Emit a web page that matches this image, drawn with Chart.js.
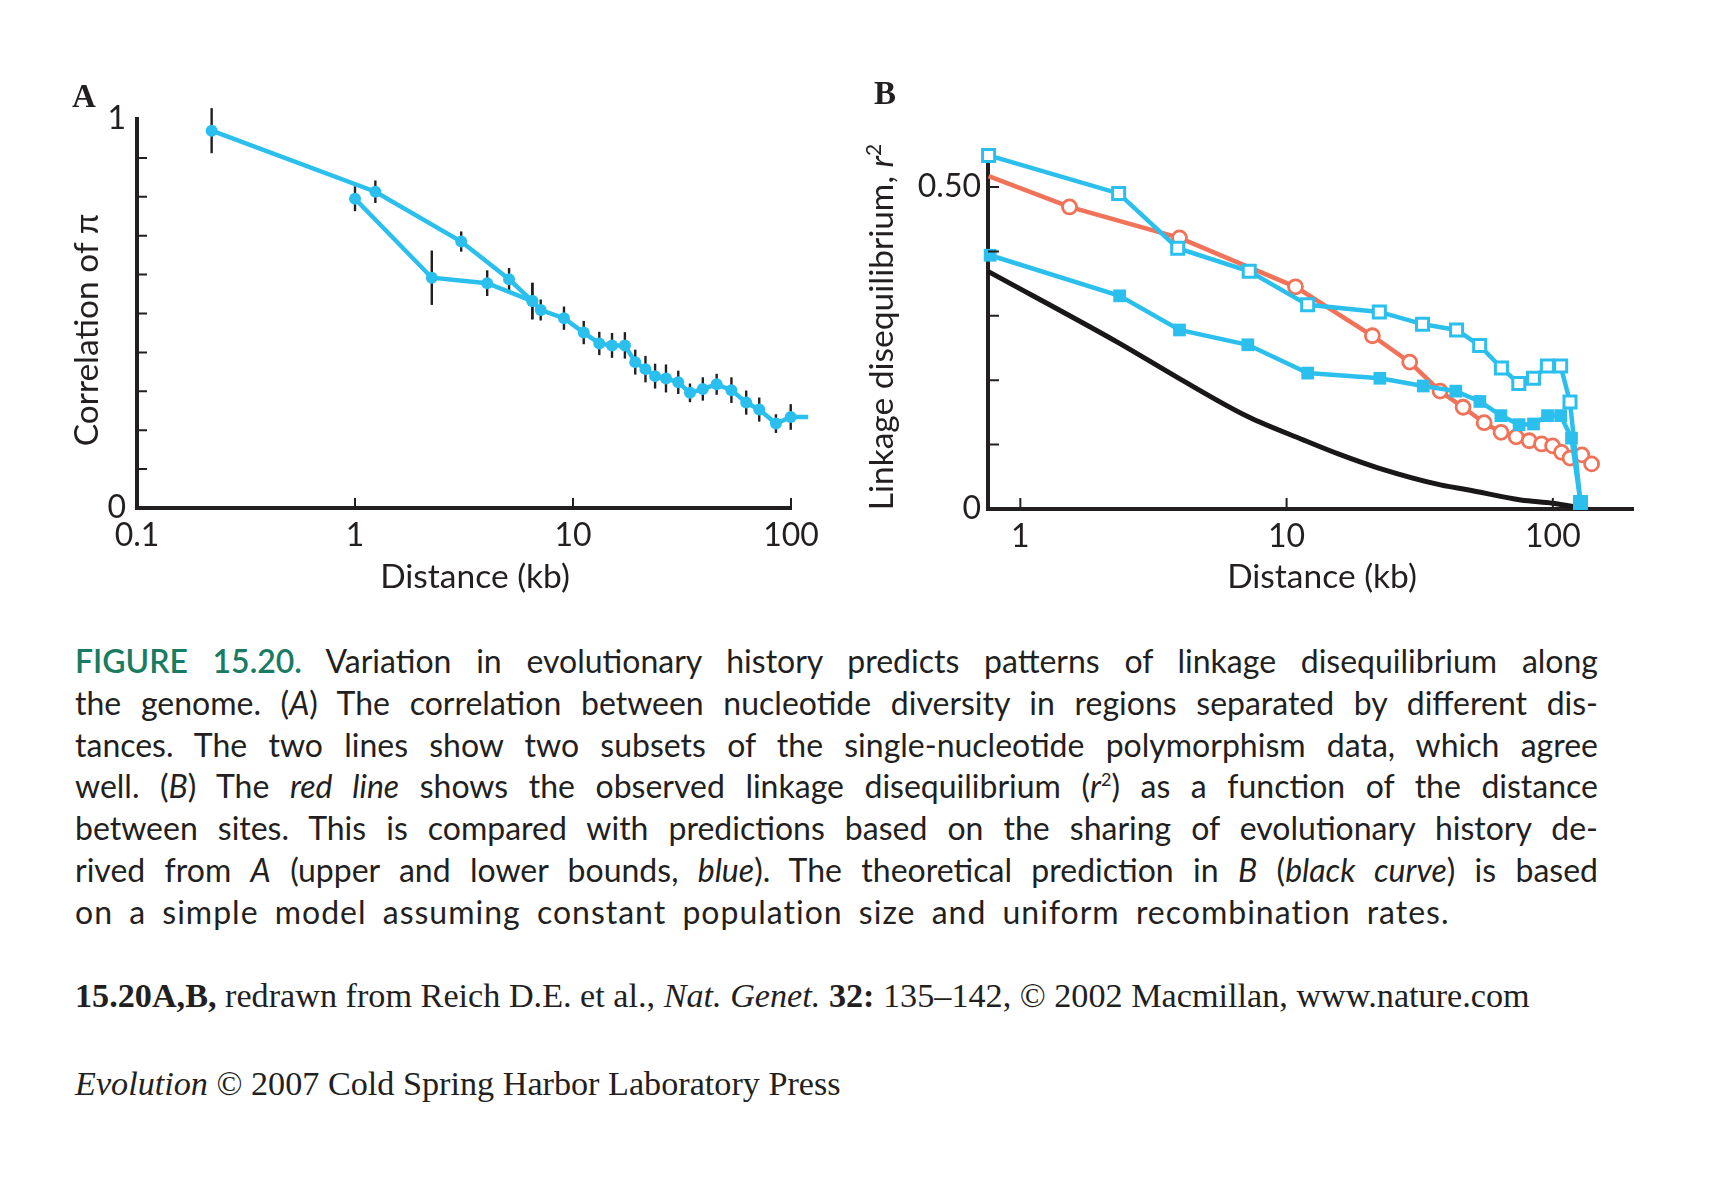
<!DOCTYPE html>
<html>
<head>
<meta charset="utf-8">
<script src="https://cdn.jsdelivr.net/npm/chart.js@4.4.0/dist/chart.umd.min.js"></script>
<style>
  body { margin: 0; background: #fff; width: 1710px; height: 1179px; position: relative; overflow: hidden; color: #231f20; font-family: Lato, "Open Sans", sans-serif; }
  .abs { position: absolute; }
  #boxA { left: 0; top: 0; width: 860px; height: 620px; }
  #boxB { left: 860px; top: 0; width: 850px; height: 620px; }
  .panel { font-family: "Liberation Serif", serif; font-weight: bold; font-size: 33px; line-height: 1; }
  .axt { font-size: 33.5px; line-height: 1; white-space: nowrap; }
  .rot { transform: translate(-50%, -50%) rotate(-90deg); }
  .ctr { transform: translate(-50%, -50%); }
  #caption { left: 75px; top: 640px; width: 1523px; font-size: 32px; line-height: 41.8px; }
  #caption div { text-align: justify; text-align-last: justify; }
  #caption div.last { text-align-last: left; letter-spacing: 1px; word-spacing: 7px; }
  .fig { color: #197b62; font-weight: 600; }
  .serif { font-family: "Liberation Serif", serif; font-size: 34.2px; line-height: 1; white-space: nowrap; }
</style>
</head>
<body>
<div id="boxA" class="abs"><canvas id="chartA"></canvas></div>
<div id="boxB" class="abs"><canvas id="chartB"></canvas></div>

<div class="abs panel ctr" style="left:84px; top:96px;">A</div>
<div class="abs panel ctr" style="left:885px; top:93px;">B</div>

<div class="abs axt rot" style="left:86px; top:330px;">Correlation of &pi;</div>
<div class="abs axt ctr" style="left:475px; top:576px;">Distance (kb)</div>
<div class="abs axt rot" style="left:880px; top:327px;">Linkage disequilibrium, <i>r</i><sup style="font-size:21px">2</sup></div>
<div class="abs axt ctr" style="left:1322px; top:576px;">Distance (kb)</div>

<div id="caption" class="abs">
  <div><span class="fig">FIGURE 15.20.</span> Variation in evolutionary history predicts patterns of linkage disequilibrium along</div>
  <div>the genome. (<i>A</i>) The correlation between nucleotide diversity in regions separated by different dis-</div>
  <div>tances. The two lines show two subsets of the single-nucleotide polymorphism data, which agree</div>
  <div>well. (<i>B</i>) The <i>red line</i> shows the observed linkage disequilibrium (<i>r</i><sup style="font-size:18px;line-height:0">2</sup>) as a function of the distance</div>
  <div>between sites. This is compared with predictions based on the sharing of evolutionary history de-</div>
  <div>rived from <i>A</i> (upper and lower bounds, <i>blue</i>). The theoretical prediction in <i>B</i> (<i>black curve</i>) is based</div>
  <div class="last">on a simple model assuming constant population size and uniform recombination rates.</div>
</div>

<div class="abs serif" style="left:75px; top:979px;"><b>15.20A,B,</b> redrawn from Reich D.E. et al., <i>Nat. Genet.</i> <b>32:</b> 135&ndash;142, &copy; 2002 Macmillan, www.nature.com</div>
<div class="abs serif" style="left:75px; top:1067px;"><i>Evolution</i> &copy; 2007 Cold Spring Harbor Laboratory Press</div>

<script>
// ---- Panel A: correlation of pi vs distance (kb) ----
const upperDistA = [0.22, 1.24, 3.07, 5.09, 6.51];
const upperCorrA = [0.970, 0.813, 0.685, 0.588, 0.532];
const upperErrA  = [0.058, 0.029, 0.026, 0.029, 0.047];

const lowerDistA = [1.0, 2.25, 4.04, 6.51, 7.11, 9.09, 11.2, 13.2, 15.1, 17.3, 19.3, 21.5, 23.8, 26.7, 30.4, 34.4, 39.4, 45.6, 53.3, 62.3, 71.5, 85.3, 99.7, 120];
const lowerCorrA = [0.795, 0.592, 0.578, 0.532, 0.509, 0.488, 0.451, 0.423, 0.418, 0.418, 0.375, 0.357, 0.339, 0.333, 0.323, 0.296, 0.306, 0.318, 0.303, 0.271, 0.253, 0.217, 0.234, 0.234];
const lowerErrA  = [0.032, 0.070, 0.033, 0.047, 0.027, 0.030, 0.030, 0.030, 0.032, 0.034, 0.032, 0.034, 0.032, 0.036, 0.030, 0.024, 0.030, 0.027, 0.033, 0.031, 0.031, 0.024, 0.033, 0];

const xTicksA = [0.1, 1, 10, 100];
const yTicksA = [0, 1];
const yMinorA = [0.1, 0.2, 0.3, 0.4, 0.5, 0.6, 0.7, 0.8, 0.9];

// ---- Panel B: linkage disequilibrium r^2 vs distance (kb) ----
const upperDistB = [0.76, 2.34, 3.90, 7.24, 12.0, 22.3, 32.4, 43.5, 53.1, 64.1, 74.5, 84.6, 95.4, 107, 116, 127];
const upperR2B   = [0.549, 0.490, 0.405, 0.369, 0.317, 0.306, 0.287, 0.278, 0.254, 0.219, 0.195, 0.203, 0.222, 0.222, 0.166, 0.010];

const lowerDistB = [0.77, 2.36, 3.96, 7.15, 12.0, 22.4, 32.6, 43.2, 53.2, 63.8, 74.7, 84.6, 95.5, 107, 117.5, 127];
const lowerR2B   = [0.394, 0.331, 0.278, 0.255, 0.211, 0.203, 0.191, 0.183, 0.167, 0.145, 0.131, 0.132, 0.145, 0.145, 0.110, 0.010];

const observedDistB = [0.76, 1.53, 3.96, 10.8, 21.0, 29.0, 37.7, 46.0, 55.2, 63.9, 72.8, 81.5, 90.7, 99.8, 107.8, 116, 128.5, 139.8];
const observedR2B   = [0.517, 0.469, 0.421, 0.345, 0.269, 0.228, 0.183, 0.158, 0.134, 0.119, 0.112, 0.106, 0.101, 0.098, 0.088, 0.079, 0.084, 0.070];

const theoryDistB = [0.756, 2.34, 3.9, 7.11, 11.6, 16.0, 22.0, 38.2, 47.8, 75.8, 100, 127];
const theoryR2B   = [0.369, 0.258, 0.204, 0.144, 0.107, 0.084, 0.064, 0.037, 0.030, 0.014, 0.009, 0.002];

const xTicksB = [1, 10, 100];
const yTicksB = [0, 0.5];
const yMinorB = [0.1, 0.2, 0.3, 0.4, 0.5];

const BLUE = '#2bbfee';
const RED = '#f07258';
const INK = '#231f20';
const TICK_FONT = { family: 'Lato, "Open Sans", sans-serif', size: 32 };

function pairs(xs, ys) {
    return xs.map((x, i) => ({ x: x, y: ys[i] }));
}

// short inward tick marks along both axes
const innerTicks = {
    id: 'innerTicks',
    afterDatasetsDraw(chart, args, opts) {
        const { ctx, chartArea } = chart;
        const xs = chart.scales.x, ys = chart.scales.y;
        ctx.save();
        ctx.strokeStyle = INK;
        ctx.lineWidth = 2;
        ctx.beginPath();
        (opts.x || []).forEach(v => {
            const px = xs.getPixelForValue(v);
            ctx.moveTo(px, chartArea.bottom);
            ctx.lineTo(px, chartArea.bottom - opts.len);
        });
        (opts.y || []).forEach(v => {
            const py = ys.getPixelForValue(v);
            ctx.moveTo(chartArea.left, py);
            ctx.lineTo(chartArea.left + opts.len, py);
        });
        ctx.stroke();
        ctx.restore();
    }
};

// vertical error bars from each dataset's "errors" array
const errorBars = {
    id: 'errorBars',
    beforeDatasetsDraw(chart) {
        const { ctx } = chart;
        const ys = chart.scales.y;
        ctx.save();
        ctx.strokeStyle = INK;
        ctx.lineWidth = 2.4;
        chart.data.datasets.forEach((ds, di) => {
            if (!ds.errors) return;
            const meta = chart.getDatasetMeta(di);
            meta.data.forEach((pt, i) => {
                const e = ds.errors[i];
                if (!e) return;
                const v = ds.data[i].y;
                ctx.beginPath();
                ctx.moveTo(pt.x, ys.getPixelForValue(v + e));
                ctx.lineTo(pt.x, ys.getPixelForValue(v - e));
                ctx.stroke();
            });
        });
        ctx.restore();
    }
};

function baseScales(cfg) {
    return {
        x: {
            type: 'logarithmic',
            min: cfg.xMin, max: cfg.xMax,
            afterBuildTicks: s => { s.ticks = cfg.xTicks.map(v => ({ value: v })); },
            afterFit: s => { s.height = cfg.xHeight; },
            grid: { display: false, drawTicks: false },
            border: { display: true, color: INK, width: 4 },
            ticks: { color: INK, font: TICK_FONT, padding: 8, maxRotation: 0, autoSkip: false, callback: v => String(v) }
        },
        y: {
            type: 'linear',
            min: 0, max: cfg.yMax,
            afterBuildTicks: s => { s.ticks = cfg.yTicks.map(v => ({ value: v })); },
            afterFit: s => { s.width = cfg.yWidth; },
            grid: { display: false, drawTicks: false },
            border: { display: true, color: INK, width: 4 },
            ticks: { color: INK, font: TICK_FONT, padding: cfg.yPad, autoSkip: false, callback: cfg.yLabel }
        }
    };
}

document.addEventListener('DOMContentLoaded', function () {
    const lastIdx = lowerDistA.length - 1;

    new Chart(document.getElementById('chartA'), {
        type: 'line',
        data: {
            datasets: [{
                data: pairs(upperDistA, upperCorrA),
                errors: upperErrA,
                borderColor: BLUE, backgroundColor: BLUE,
                borderWidth: 4.5, pointRadius: 6, pointBorderWidth: 0,
                clip: false
            }, {
                data: pairs(lowerDistA, lowerCorrA),
                errors: lowerErrA,
                borderColor: BLUE, backgroundColor: BLUE,
                borderWidth: 4.5, pointBorderWidth: 0,
                pointRadius: ctx => ctx.dataIndex === lastIdx ? 0 : 6,
                clip: false
            }]
        },
        options: {
            animation: false,
            responsive: true,
            maintainAspectRatio: false,
            layout: { padding: { left: 0, right: 69, top: 119, bottom: 0 } },
            plugins: {
                legend: { display: false },
                tooltip: { enabled: false },
                innerTicks: { x: [1, 10, 100], y: yMinorA, len: 10 }
            },
            scales: baseScales({
                xMin: 0.1, xMax: 100, xTicks: xTicksA, xHeight: 112,
                yMax: 1, yTicks: yTicksA, yWidth: 137, yPad: 11,
                yLabel: v => String(v)
            })
        },
        plugins: [innerTicks, errorBars]
    });

    const firstObs = 0;
    new Chart(document.getElementById('chartB'), {
        type: 'line',
        data: {
            datasets: [{
                // lower bound (filled squares)
                data: pairs(lowerDistB, lowerR2B),
                borderColor: BLUE, backgroundColor: BLUE,
                borderWidth: 4.5, pointStyle: 'rect', pointRadius: 9, pointBorderWidth: 0,
                order: 0, clip: false
            }, {
                // upper bound (open squares)
                data: pairs(upperDistB, upperR2B),
                borderColor: BLUE, pointBackgroundColor: '#fff', pointBorderColor: BLUE,
                borderWidth: 4.5, pointStyle: 'rect', pointRadius: 8.5, pointBorderWidth: 3,
                order: 1, clip: false
            }, {
                // observed r^2 (red, open circles)
                data: pairs(observedDistB, observedR2B),
                borderColor: RED, pointBackgroundColor: '#fff', pointBorderColor: RED,
                borderWidth: 4.5, pointRadius: ctx => ctx.dataIndex === firstObs ? 0 : 7, pointBorderWidth: 2.8,
                order: 2, clip: false
            }, {
                // theoretical prediction (black curve)
                data: pairs(theoryDistB, theoryR2B),
                borderColor: '#1a1718', borderWidth: 5, pointRadius: 0,
                cubicInterpolationMode: 'monotone',
                order: 3, clip: false
            }]
        },
        options: {
            animation: false,
            responsive: true,
            maintainAspectRatio: false,
            layout: { padding: { left: 0, right: 77, top: 158, bottom: 0 } },
            plugins: {
                legend: { display: false },
                tooltip: { enabled: false },
                innerTicks: { x: [1, 10, 100], y: yMinorB, len: 11 }
            },
            scales: baseScales({
                xMin: 0.756, xMax: 200, xTicks: xTicksB, xHeight: 111,
                yMax: 0.545, yTicks: yTicksB, yWidth: 128, yPad: 7,
                yLabel: v => v === 0 ? '0' : v.toFixed(2)
            })
        },
        plugins: [innerTicks]
    });
});
</script>
</body>
</html>
